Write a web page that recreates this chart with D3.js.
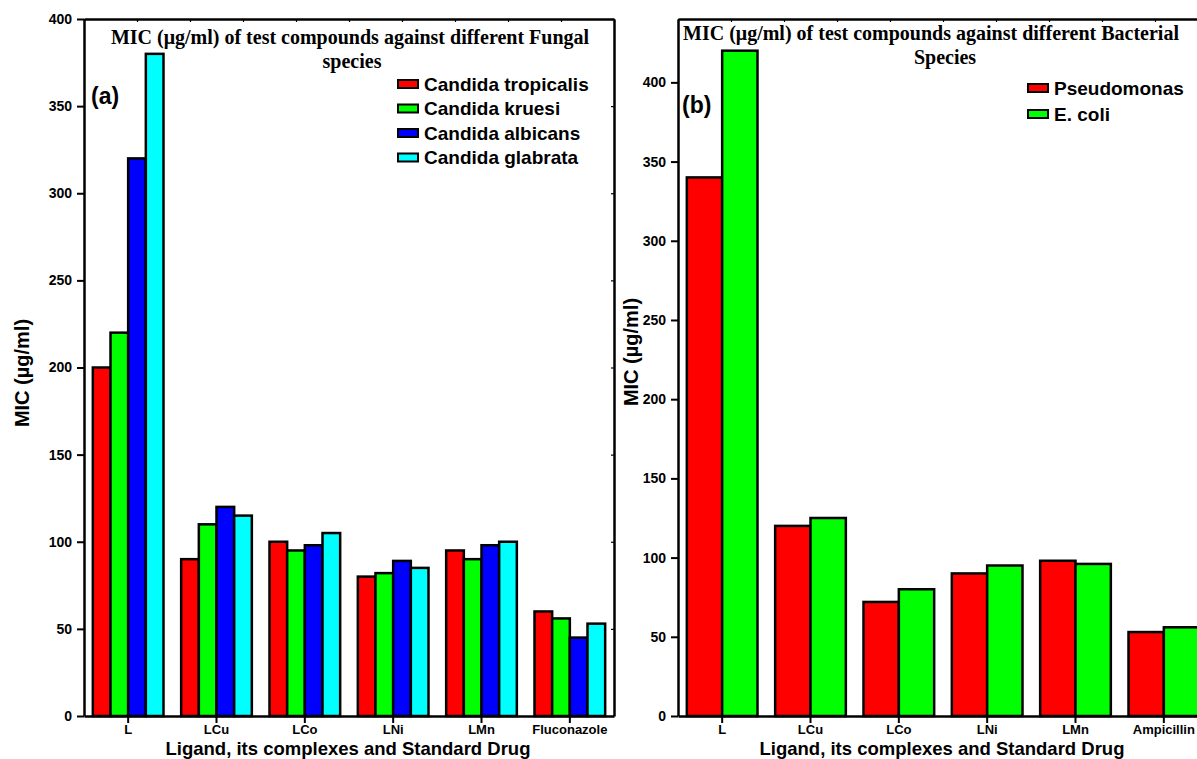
<!DOCTYPE html>
<html>
<head>
<meta charset="utf-8">
<script src="https://cdn.jsdelivr.net/npm/d3@7/dist/d3.min.js"></script>
<style>
  html, body { margin: 0; padding: 0; background: #fff; }
  svg { display: block; }
  .sans { font-family: "Liberation Sans", Arial, sans-serif; font-weight: bold; }
  .serif { font-family: "Liberation Serif", "Times New Roman", serif; font-weight: bold; }
</style>
</head>
<body>
<svg id="chart" width="1197" height="759"></svg>
<script>
// ---- data ----
const fungalCategories = ["L", "LCu", "LCo", "LNi", "LMn", "Fluconazole"];
const fungalSeries = ["Candida tropicalis", "Candida kruesi", "Candida albicans", "Candida glabrata"];
const candidaTropicalis = [200, 90, 100, 80, 95, 60];
const candidaKruesi     = [220, 110, 95, 82, 90, 56];
const candidaAlbicans   = [320, 120, 98, 89, 98, 45];
const candidaGlabrata   = [380, 115, 105, 85, 100, 53];
const fungalColors = ["#ff0000", "#00ff00", "#0000ff", "#00ffff"];
const fungalTicks = [0, 50, 100, 150, 200, 250, 300, 350, 400];

const bacterialCategories = ["L", "LCu", "LCo", "LNi", "LMn", "Ampicillin"];
const bacterialSeries = ["Pseudomonas", "E. coli"];
const pseudomonas = [340, 120, 72, 90, 98, 53];
const eColi       = [420, 125, 80, 95, 96, 56];
const bacterialColors = ["#ff0000", "#00ff00"];
const bacterialTicks = [0, 50, 100, 150, 200, 250, 300, 350, 400];

const svg = d3.select("#chart");

function drawPanel(cfg) {
  const g = svg.append("g");
  const x = d3.scaleBand().domain(cfg.categories).range([cfg.left, cfg.right])
    .paddingInner(0.2).paddingOuter(0.1);
  const xs = d3.scaleBand().domain(cfg.series).range([0, x.bandwidth()]).padding(0);
  const y = d3.scaleLinear().domain(cfg.yDomain).range([cfg.bottom, cfg.top]);

  // bars
  cfg.series.forEach((s, si) => {
    g.selectAll(null).data(cfg.values[si]).enter().append("rect")
      .attr("x", (d, i) => x(cfg.categories[i]) + xs(s))
      .attr("y", d => y(d))
      .attr("width", xs.bandwidth())
      .attr("height", d => y(0) - y(d))
      .attr("fill", cfg.colors[si])
      .attr("stroke", "#000")
      .attr("stroke-width", 2.5);
  });

  // left axis
  const yAxis = g.append("g").attr("transform", `translate(${cfg.left},0)`)
    .call(d3.axisLeft(y).tickValues(cfg.yTicks).tickSize(7).tickPadding(5).tickSizeOuter(0));
  yAxis.select(".domain").attr("stroke-width", 2.5);
  yAxis.selectAll(".tick line").attr("stroke-width", 2);
  yAxis.selectAll("text").attr("class", "sans").style("font-size", "14px");

  // bottom axis
  const xAxis = g.append("g").attr("transform", `translate(0,${cfg.bottom})`)
    .call(d3.axisBottom(x).tickSize(7).tickPadding(2).tickSizeOuter(0));
  xAxis.select(".domain").attr("stroke-width", 2.5);
  xAxis.selectAll(".tick line").attr("stroke-width", 2);
  xAxis.selectAll("text").attr("class", "sans").style("font-size", "13px");

  // frame: top and right borders with short inward ticks
  const topScale = d3.scaleLinear().domain([0, 10]).range([cfg.left, cfg.right]);
  const topAxis = g.append("g").attr("transform", `translate(0,${cfg.top})`)
    .call(d3.axisTop(topScale).ticks(10).tickSize(-3).tickSizeOuter(0).tickFormat(""));
  topAxis.select(".domain").attr("stroke-width", 2.5);
  topAxis.selectAll(".tick line").attr("stroke-width", 1.2);

  const rightAxis = g.append("g").attr("transform", `translate(${cfg.right},0)`)
    .call(d3.axisRight(y).tickValues(cfg.yTicks).tickSize(-3).tickSizeOuter(0).tickFormat(""));
  rightAxis.select(".domain").attr("stroke-width", 2.5);
  rightAxis.selectAll(".tick line").attr("stroke-width", 1.2);

  // title
  g.append("text").attr("class", "serif").style("font-size", "20px")
    .attr("x", cfg.title1[1]).attr("y", cfg.title1[2]).attr("text-anchor", "middle")
    .text(cfg.title1[0]);
  g.append("text").attr("class", "serif").style("font-size", "20px")
    .attr("x", cfg.title2[1]).attr("y", cfg.title2[2]).attr("text-anchor", "middle")
    .text(cfg.title2[0]);

  // panel tag
  g.append("text").attr("class", "sans").style("font-size", "23px")
    .attr("x", cfg.tag[1]).attr("y", cfg.tag[2]).text(cfg.tag[0]);

  // legend
  cfg.series.forEach((s, si) => {
    const ly = cfg.legend.y + si * cfg.legend.dy;
    g.append("rect").attr("x", cfg.legend.x).attr("y", ly - 4)
      .attr("width", 20).attr("height", 8)
      .attr("fill", cfg.colors[si]).attr("stroke", "#000").attr("stroke-width", 2);
    g.append("text").attr("class", "sans").style("font-size", "19px")
      .attr("x", cfg.legend.x + 26).attr("y", ly + 6.5).text(s);
  });

  // axis titles
  g.append("text").attr("class", "sans").style("font-size", "20px")
    .attr("text-anchor", "middle")
    .attr("transform", `translate(${cfg.yLabel[0]},${cfg.yLabel[1]}) rotate(-90)`)
    .text("MIC (\u00b5g/ml)");
  g.append("text").attr("class", "sans").style("font-size", "18.5px")
    .attr("text-anchor", "middle").attr("x", cfg.xLabel[0]).attr("y", cfg.xLabel[1])
    .text("Ligand, its complexes and Standard Drug");
}

drawPanel({
  categories: fungalCategories,
  series: fungalSeries,
  values: [candidaTropicalis, candidaKruesi, candidaAlbicans, candidaGlabrata],
  colors: fungalColors,
  yDomain: [0, 400], yTicks: fungalTicks,
  left: 84, right: 614, top: 19, bottom: 716,
  title1: ["MIC (\u03bcg/ml) of test compounds against different Fungal", 350, 44],
  title2: ["species", 352, 68],
  tag: ["(a)", 91, 104],
  legend: { x: 398, y: 84, dy: 24.5 },
  yLabel: [29, 373],
  xLabel: [348, 755]
});

drawPanel({
  categories: bacterialCategories,
  series: bacterialSeries,
  values: [pseudomonas, eColi],
  colors: bacterialColors,
  yDomain: [0, 440], yTicks: bacterialTicks,
  left: 678, right: 1208, top: 19, bottom: 716,
  title1: ["MIC (\u03bcg/ml) of test compounds against different Bacterial", 931, 40],
  title2: ["Species", 945, 64],
  tag: ["(b)", 682, 113],
  legend: { x: 1028, y: 88, dy: 26 },
  yLabel: [638, 352],
  xLabel: [942, 755]
});
</script>
</body>
</html>
